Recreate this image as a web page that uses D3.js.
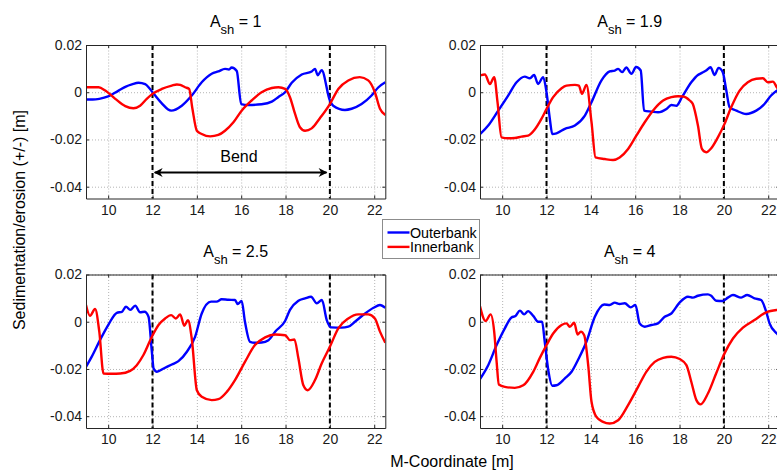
<!DOCTYPE html>
<html>
<head>
<meta charset="utf-8">
<script src="https://cdn.jsdelivr.net/npm/d3@7"></script>
<style>
  body { margin: 0; background: #fff; }
  svg { display: block; font-family: Arial, "Liberation Sans", sans-serif; }
</style>
</head>
<body>
<svg id="chart" width="777" height="470"></svg>
<script>
// ---- data -------------------------------------------------------------
const xTicks = [10, 12, 14, 16, 18, 20, 22];
const yTicks = [0.02, 0, -0.02, -0.04];
const yTickLabels = ["0.02", "0", "-0.02", "-0.04"];
const bendEdges = [12, 20];
const shapeFactors = ["1", "1.9", "2.5", "4"];
const seriesNames = ["Outerbank", "Innerbank"];

// [M-coordinate (m), bed change (m)]
const outer1 = [[9.0,-0.0031],[9.3,-0.0031],[9.6,-0.0028],[10.0,-0.0018],[10.47,0.0007],[10.8,0.0024],[11.07,0.0033],[11.37,0.0040],[11.67,0.0034],[11.85,0.0018],[12.0,0.0],[12.4,-0.0045],[12.84,-0.0078],[13.32,-0.0057],[13.77,-0.0014],[14.22,0.0042],[14.67,0.0078],[14.97,0.0088],[15.27,0.0099],[15.45,0.0096],[15.57,0.0105],[15.8,0.009],[16.0,-0.005],[16.32,-0.0054],[16.92,-0.0051],[17.38,-0.004],[17.68,-0.002],[17.98,0.0],[18.28,0.004],[18.73,0.0075],[19.18,0.0088],[19.33,0.0099],[19.45,0.0072],[19.63,0.0093],[20.0,-0.0035],[20.15,-0.0057],[20.68,-0.0075],[20.98,-0.007],[21.43,-0.005],[21.88,-0.0014],[22.18,0.002],[22.5,0.0042]];
const inner1 = [[9.0,0.0021],[9.57,0.0021],[9.87,0.0007],[10.32,-0.0028],[10.77,-0.0059],[11.14,-0.0068],[11.44,-0.0057],[11.74,-0.0028],[12.0,-0.0007],[12.42,0.0014],[12.87,0.0028],[13.1,0.0033],[13.25,0.0031],[13.47,0.0021],[13.65,0.0014],[13.8,-0.007],[14.0,-0.0163],[14.22,-0.0177],[14.6,-0.0187],[14.97,-0.0181],[15.27,-0.0163],[15.65,-0.0127],[16.02,-0.0078],[16.47,-0.0035],[16.92,0.0],[17.38,0.0018],[17.68,0.0021],[17.98,0.0014],[18.2,-0.0021],[18.43,-0.0092],[18.65,-0.0148],[18.88,-0.0163],[19.18,-0.0153],[19.55,-0.011],[20.0,-0.005],[20.38,0.0014],[20.83,0.005],[21.35,0.0064],[21.73,0.005],[22.03,0.0],[22.26,-0.007],[22.5,-0.0096]];

const outer2 = [[9.0,-0.0178],[9.37,-0.0141],[9.82,-0.0078],[10.27,-0.0014],[10.65,0.0042],[11.02,0.0066],[11.25,0.0059],[11.44,0.0073],[11.62,0.0035],[11.85,0.0064],[12.0,0.0],[12.15,-0.0113],[12.26,-0.0177],[12.45,-0.0174],[12.83,-0.0155],[13.28,-0.0141],[13.73,-0.0099],[14.03,-0.0042],[14.48,0.005],[14.85,0.0088],[15.08,0.0092],[15.23,0.0099],[15.41,0.0085],[15.6,0.0105],[15.83,0.0078],[16.04,0.0107],[16.25,0.0092],[16.4,-0.0078],[16.73,-0.0082],[17.03,-0.0085],[17.41,-0.0071],[17.63,-0.0054],[17.86,-0.0057],[18.11,-0.0021],[18.53,0.0042],[18.83,0.0073],[19.01,0.0082],[19.2,0.0092],[19.4,0.0106],[19.58,0.0073],[19.76,0.0103],[19.95,0.0085],[20.11,0.0007],[20.26,-0.0064],[20.56,-0.0078],[21.01,-0.0092],[21.46,-0.0078],[21.83,-0.005],[22.13,-0.0014],[22.39,0.0007],[22.5,0.0015]];
const inner2 = [[9.0,0.0071],[9.22,0.0075],[9.45,0.0035],[9.64,0.0064],[9.79,-0.0042],[9.97,-0.0191],[10.27,-0.0195],[10.57,-0.0194],[10.87,-0.0188],[11.17,-0.0184],[11.47,-0.0158],[11.77,-0.0113],[12.0,-0.0071],[12.3,-0.0021],[12.68,0.0017],[12.9,0.0028],[13.28,0.0031],[13.46,0.0028],[13.6,-0.0007],[13.8,0.0031],[14.03,-0.0127],[14.21,-0.0276],[14.63,-0.0283],[15.0,-0.0287],[15.3,-0.0276],[15.68,-0.024],[16.05,-0.0184],[16.43,-0.0127],[16.8,-0.0078],[17.26,-0.0035],[17.63,-0.0021],[17.93,-0.0017],[18.16,-0.0018],[18.46,-0.0035],[18.6,-0.005],[18.83,-0.0141],[19.01,-0.024],[19.2,-0.0254],[19.43,-0.0237],[19.73,-0.0191],[20.03,-0.0134],[20.33,-0.0064],[20.71,0.0007],[21.08,0.0042],[21.46,0.0057],[21.76,0.0059],[21.98,0.0042],[22.21,0.0045],[22.39,0.0021],[22.5,0.0005]];

const outer3 = [[9.0,-0.0191],[9.26,-0.0148],[9.63,-0.0078],[10.02,-0.0011],[10.39,0.0038],[10.62,0.0042],[10.8,0.0064],[11.0,0.005],[11.22,0.0068],[11.44,0.004],[11.64,0.0042],[11.82,0.0021],[11.97,-0.0127],[12.05,-0.0198],[12.2,-0.0212],[12.5,-0.0198],[12.87,-0.0181],[13.17,-0.0167],[13.55,-0.0127],[13.92,-0.0064],[14.22,0.0035],[14.64,0.0085],[14.89,0.0085],[15.12,0.0095],[15.42,0.0093],[15.72,0.0092],[15.84,0.0075],[16.02,0.0088],[16.17,0.0],[16.4,-0.0085],[16.62,-0.0089],[16.92,-0.0088],[17.23,-0.0078],[17.53,-0.0042],[17.98,0.0003],[18.2,0.005],[18.58,0.0089],[18.88,0.0099],[19.15,0.0106],[19.41,0.0078],[19.64,0.0092],[19.86,0.0007],[20.06,-0.0024],[20.53,-0.0025],[20.83,-0.0021],[21.13,0.0],[21.59,0.0035],[21.97,0.0059],[22.26,0.0071],[22.5,0.0059]];
const inner3 = [[9.0,0.0071],[9.18,0.0025],[9.41,0.0054],[9.6,-0.0042],[9.79,-0.0219],[10.17,-0.022],[10.54,-0.0219],[10.99,-0.0208],[11.29,-0.0184],[11.59,-0.0141],[11.97,-0.0064],[12.27,-0.0014],[12.57,0.0014],[12.84,0.0028],[13.05,0.0014],[13.25,0.0031],[13.43,-0.0017],[13.6,0.0006],[13.77,-0.0071],[14.0,-0.029],[14.22,-0.0318],[14.67,-0.0332],[14.97,-0.0328],[15.35,-0.0297],[15.72,-0.0247],[16.17,-0.017],[16.62,-0.0099],[17.08,-0.0066],[17.53,-0.0054],[17.98,-0.0057],[18.2,-0.0078],[18.4,-0.0075],[18.58,-0.0155],[18.8,-0.0268],[19.0,-0.029],[19.33,-0.0247],[19.63,-0.0177],[20.0,-0.0106],[20.38,-0.0028],[20.83,0.0014],[21.28,0.0031],[21.73,0.0031],[22.03,0.0014],[22.26,-0.0042],[22.5,-0.0089]];

const outer4 = [[9.0,-0.0243],[9.37,-0.0184],[9.75,-0.0099],[10.12,-0.0028],[10.42,0.0018],[10.6,0.0024],[10.8,0.0047],[10.99,0.0031],[11.17,0.0045],[11.4,0.0025],[11.62,0.0],[11.8,0.0],[11.92,-0.0085],[12.08,-0.0205],[12.26,-0.0271],[12.45,-0.0269],[12.83,-0.024],[13.13,-0.0212],[13.43,-0.016],[13.8,-0.0085],[14.18,0.0021],[14.6,0.0073],[14.85,0.0071],[15.08,0.0081],[15.3,0.0075],[15.53,0.0078],[15.8,0.0061],[16.01,0.0071],[16.2,-0.0007],[16.43,-0.0021],[16.73,-0.0014],[17.03,-0.0007],[17.33,0.0021],[17.63,0.0035],[18.01,0.0082],[18.38,0.0106],[18.6,0.0102],[18.83,0.011],[19.28,0.0116],[19.43,0.011],[19.65,0.0089],[19.95,0.0088],[20.18,0.0102],[20.41,0.0113],[20.78,0.0102],[21.05,0.0113],[21.38,0.0099],[21.68,0.0092],[21.91,0.0042],[22.06,-0.0007],[22.39,-0.005],[22.5,-0.006]];
const inner4 = [[9.0,0.0065],[9.25,0.0003],[9.48,0.0031],[9.64,-0.0042],[9.75,-0.017],[9.85,-0.0266],[10.12,-0.0276],[10.57,-0.028],[10.95,-0.0269],[11.4,-0.0212],[11.7,-0.0153],[12.0,-0.0099],[12.3,-0.005],[12.68,-0.0014],[12.9,-0.0007],[13.05,-0.0021],[13.25,-0.0004],[13.4,-0.0054],[13.55,-0.0042],[13.7,-0.0057],[13.88,-0.0184],[14.03,-0.0339],[14.25,-0.0403],[14.55,-0.0424],[14.85,-0.0431],[15.23,-0.0417],[15.68,-0.0353],[16.13,-0.0276],[16.5,-0.0212],[16.88,-0.017],[17.26,-0.0153],[17.63,-0.0148],[18.01,-0.0158],[18.31,-0.0184],[18.53,-0.0254],[18.76,-0.0332],[18.95,-0.035],[19.28,-0.0304],[19.65,-0.0219],[20.03,-0.0134],[20.41,-0.0071],[20.86,-0.0025],[21.38,0.0007],[21.91,0.004],[22.39,0.005],[22.5,0.0051]];

// ---- layout -----------------------------------------------------------
const svg = d3.select("#chart");
const W = 299.3, H = 153.5;
const panelOrigins = [[86, 45], [480, 45], [86, 274.5], [480, 274.5]];
const outerSeries = [outer1, outer2, outer3, outer4];
const innerSeries = [inner1, inner2, inner3, inner4];
const colors = ["#0000ff", "#ff0000"];
const axisColor = "#262626";

const x = d3.scaleLinear().domain([9, 22.5]).range([0, W]);
const y = d3.scaleLinear().domain([-0.045, 0.02]).range([H, 0]);
const line = d3.line().x(d => x(d[0])).y(d => y(d[1])).curve(d3.curveMonotoneX);

svg.append("defs").append("clipPath").attr("id", "plotClip")
  .append("rect").attr("width", W).attr("height", H);

panelOrigins.forEach(([px, py], i) => {
  const g = svg.append("g").attr("transform", `translate(${px},${py})`);

  g.append("rect").attr("width", W).attr("height", H).attr("fill", "#fff");

  // dotted grid
  const gx = g.append("g").attr("transform", `translate(0,${H})`)
    .call(d3.axisBottom(x).tickValues(xTicks).tickSize(-H).tickFormat(""));
  const gy = g.append("g")
    .call(d3.axisLeft(y).tickValues(yTicks).tickSize(-W).tickFormat(""));
  [gx, gy].forEach(a => {
    a.select(".domain").remove();
    a.selectAll("line").attr("stroke", "#b4b4b4").attr("stroke-dasharray", "1,2");
  });

  // bend limits
  g.selectAll(".bend").data(bendEdges).join("line")
    .attr("x1", d => x(d)).attr("x2", d => x(d))
    .attr("y1", 0).attr("y2", H)
    .attr("stroke", "#000").attr("stroke-width", 2).attr("stroke-dasharray", "5,3");

  // bank profiles
  const curves = g.append("g").attr("clip-path", "url(#plotClip)");
  [outerSeries[i], innerSeries[i]].forEach((s, k) => {
    curves.append("path").datum(s).attr("d", line)
      .attr("fill", "none").attr("stroke", colors[k])
      .attr("stroke-width", 2.4).attr("stroke-linejoin", "round");
  });

  // axes with inward ticks on all four sides
  const bottom = g.append("g").attr("transform", `translate(0,${H})`)
    .call(d3.axisBottom(x).tickValues(xTicks).tickSizeInner(-3).tickSizeOuter(0).tickPadding(6.5));
  const left = g.append("g")
    .call(d3.axisLeft(y).tickValues(yTicks).tickSizeInner(-3).tickSizeOuter(0).tickPadding(4)
      .tickFormat((d, j) => yTickLabels[j]));
  const top = g.append("g")
    .call(d3.axisTop(x).tickValues(xTicks).tickSizeInner(-3).tickSizeOuter(0).tickFormat(""));
  const right = g.append("g").attr("transform", `translate(${W},0)`)
    .call(d3.axisRight(y).tickValues(yTicks).tickSizeInner(-3).tickSizeOuter(0).tickFormat(""));
  [bottom, left, top, right].forEach(a => {
    a.select(".domain").attr("stroke", axisColor);
    a.selectAll(".tick line").attr("stroke", axisColor);
    a.selectAll("text").attr("fill", "#1a1a1a").style("font-size", "14px")
      .style("font-family", "Arial, 'Liberation Sans', sans-serif");
  });

  // title: A_sh = value
  const t = g.append("text").attr("x", W / 2).attr("y", -18)
    .attr("text-anchor", "middle").attr("fill", "#000").style("font-size", "16px");
  t.append("tspan").text("A");
  t.append("tspan").attr("dy", 7).style("font-size", "13px").text("sh");
  t.append("tspan").attr("dy", -7).text("\u00a0= " + shapeFactors[i]);

  // bend annotation on the first panel
  if (i === 0) {
    const ay = y(-0.034);
    const defs = svg.select("defs");
    defs.append("marker").attr("id", "arrowHead")
      .attr("viewBox", "0 0 10 10").attr("refX", 9).attr("refY", 5)
      .attr("markerWidth", 5).attr("markerHeight", 4).attr("markerUnits", "strokeWidth")
      .attr("orient", "auto-start-reverse")
      .append("path").attr("d", "M0,0 L10,5 L0,10 L3,5 Z").attr("fill", "#000");
    g.append("line")
      .attr("x1", x(12.1)).attr("x2", x(19.85)).attr("y1", ay).attr("y2", ay)
      .attr("stroke", "#000").attr("stroke-width", 2.2)
      .attr("marker-start", "url(#arrowHead)").attr("marker-end", "url(#arrowHead)");
    g.append("text").attr("x", x(15.9)).attr("y", ay - 10.5)
      .attr("text-anchor", "middle").style("font-size", "16px").text("Bend");
  }
});

// shared axis labels
svg.append("text").attr("transform", "translate(24.5,220) rotate(-90)")
  .attr("text-anchor", "middle").style("font-size", "16px")
  .text("Sedimentation/erosion (+/-) [m]");
svg.append("text").attr("x", 452).attr("y", 467)
  .attr("text-anchor", "middle").style("font-size", "16px")
  .text("M-Coordinate [m]");

// legend
const lg = svg.append("g").attr("transform", "translate(382.5,219.5)");
lg.append("rect").attr("width", 97).attr("height", 39)
  .attr("fill", "#fff").attr("stroke", "#8c8c8c").attr("stroke-width", 1);
seriesNames.forEach((name, k) => {
  const ry = 13 + k * 14.4;
  lg.append("line").attr("x1", 5).attr("x2", 27).attr("y1", ry).attr("y2", ry)
    .attr("stroke", colors[k]).attr("stroke-width", 2.4);
  lg.append("text").attr("x", 27.5).attr("y", ry + 5)
    .style("font-size", "14.3px").text(name);
});
</script>
</body>
</html>
